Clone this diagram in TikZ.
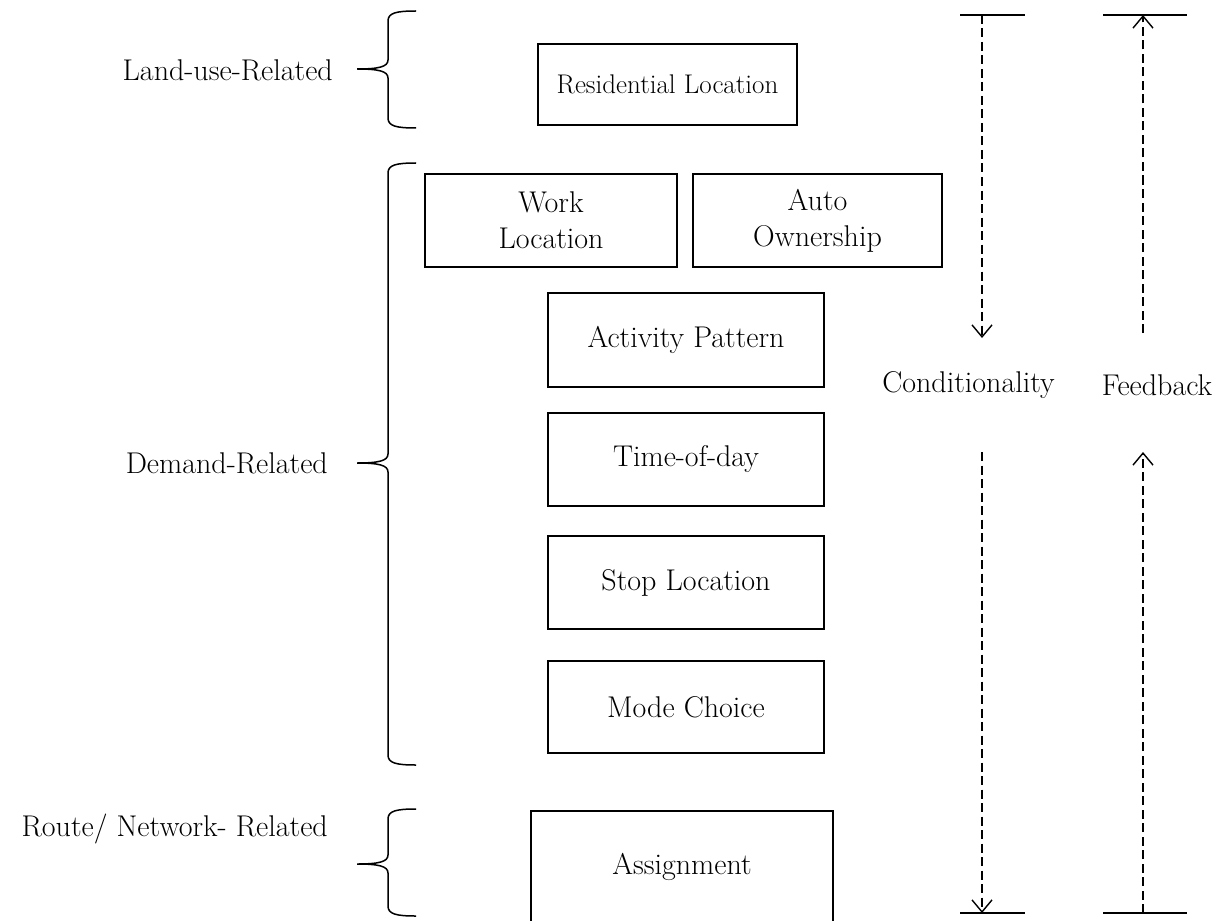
\documentclass[tikz,border=0pt]{standalone}
\usetikzlibrary{arrows.meta}
\begin{document}
\begin{tikzpicture}[x=1pt,y=-1pt,
  box/.style={draw,line width=2.4pt,inner sep=0pt,font=\fontsize{30}{36}\selectfont,align=center},
  lbl/.style={font=\fontsize{30}{36}\selectfont,inner sep=0pt},
  brace/.style={line width=1.5pt},
  bar/.style={line width=1.6pt},
  dasharrow/.style={line width=1.4pt,dash pattern=on 9pt off 4.5pt,-{Straight Barb[length=12pt,width=20pt,line width=1.4pt]}}]
\useasboundingbox (0,0) rectangle (1222,920);

% boxes
\node[box,minimum width=259pt,minimum height=81pt,font=\fontsize{27}{32}\selectfont] (res) at (667.5,84.5) {Residential Location};
\node[box,minimum width=252pt,minimum height=93pt] (work) at (551,220.5) {Work\\Location};
\node[box,minimum width=249pt,minimum height=93pt] (auto) at (817.5,220.5) {Auto\\Ownership};
\node[box,minimum width=276pt,minimum height=94pt] (act) at (686,340) {Activity Pattern};
\node[box,minimum width=276pt,minimum height=93pt] (tod) at (686,459.5) {Time-of-day};
\node[box,minimum width=276pt,minimum height=93pt] (stop) at (686,582.5) {Stop Location};
\node[box,minimum width=276pt,minimum height=92pt] (mode) at (686,707) {Mode Choice};
\node[box,minimum width=302pt,minimum height=112pt] (assign) at (682,867) {Assignment};

% group labels
\node[lbl,anchor=east] (lu) at (333,70) {Land-use-Related};
\node[lbl,anchor=east] (dem) at (328,463) {Demand-Related};
\node[lbl,anchor=east] (route) at (328,829) {Route/ Network- Related};

% braces
\draw[brace] (416,11) .. controls (396,11) and (388,13) .. (388,21) -- (388,60) .. controls (388,67) and (378,69) .. (357,69) .. controls (378,69) and (388,71) .. (388,78) -- (388,118) .. controls (388,126) and (396,128) .. (416,128);
\draw[brace] (416,163) .. controls (396,163) and (388,165) .. (388,173) -- (388,454) .. controls (388,461) and (378,463) .. (357,463) .. controls (378,463) and (388,465) .. (388,472) -- (388,755) .. controls (388,763) and (396,765) .. (416,765);
\draw[brace] (416,809) .. controls (396,809) and (388,811) .. (388,819) -- (388,855) .. controls (388,862) and (378,864) .. (357,864) .. controls (378,864) and (388,866) .. (388,873) -- (388,906) .. controls (388,914) and (396,916) .. (416,916);

% conditionality / feedback
\node[lbl] (cond) at (968.5,385) {Conditionality};
\node[lbl] (feed) at (1157,385) {Feedback};

\coordinate (ctl) at (960,15);   \coordinate (ctr) at (1025,15);
\coordinate (ftl) at (1103,15);  \coordinate (ftr) at (1187,15);
\coordinate (cbl) at (960,913);  \coordinate (cbr) at (1025,913);
\coordinate (fbl) at (1103,913); \coordinate (fbr) at (1187,913);
\coordinate (ctop) at (982,15);  \coordinate (cmid1) at (982,338);
\coordinate (cmid2) at (982,452); \coordinate (cbot) at (982,913);
\coordinate (ftop) at (1143,15); \coordinate (fmid1) at (1143,333);
\coordinate (fmid2) at (1143,452); \coordinate (fbot) at (1143,913);

\draw[bar] (ctl) -- (ctr);
\draw[bar] (ftl) -- (ftr);
\draw[bar] (cbl) -- (cbr);
\draw[bar] (fbl) -- (fbr);

\draw[dasharrow] (ctop) -- (cmid1);
\draw[dasharrow] (cmid2) -- (cbot);
\draw[dasharrow] (fmid1) -- (ftop);
\draw[dasharrow] (fbot) -- (fmid2);
\end{tikzpicture}
\end{document}
